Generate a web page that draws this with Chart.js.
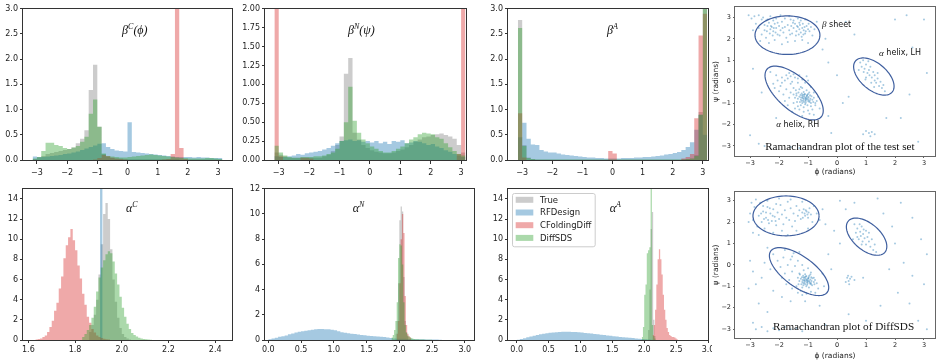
<!DOCTYPE html>
<html>
<head>
<meta charset="utf-8">
<script src="https://cdn.jsdelivr.net/npm/chart.js@4.4.0/dist/chart.umd.min.js"></script>
<style>
  html, body { margin: 0; padding: 0; background: #fff; }
  #wrap { position: relative; width: 941px; height: 362px; overflow: hidden; background: #fff; }
  canvas { position: absolute; }
</style>
</head>
<body>
<div id="wrap"></div>
<script>
// ---------- series ----------
const seriesNames = ["True", "RFDesign", "CFoldingDiff", "DiffSDS"];
const seriesColors = ["rgba(128,128,128,0.4)", "rgba(31,119,180,0.4)", "rgba(214,39,40,0.4)", "rgba(44,160,44,0.4)"];

// angle histograms: 44 bins from -pi to pi
const angleStart = -Math.PI;
const angleWidth = (2 * Math.PI) / 44;

const betaC_true = [0.02,0.05,0.08,0.12,0.14,0.16,0.18,0.2,0.22,0.25, 0.33,0.42,0.59,1.39,1.89,0.66,0.12,0.06,0.04,0.03, 0.03,0.02,0.02,0.02,0.02,0.02,0.02,0.02,0.02,0.02, 0.02,0.02,0.02,0.02,0.01,0.01,0.01,0.01,0.01,0.01, 0.01,0.01,0.01,0.01];
const betaC_rf = [0.07,0.06,0.06,0.07,0.08,0.09,0.10,0.12,0.13,0.15, 0.17,0.2,0.23,0.26,0.29,0.32,0.33,0.26,0.22,0.19, 0.18,0.17,0.75,0.16,0.15,0.14,0.13,0.12,0.11,0.10, 0.09,0.08,0.07,0.06,0.06,0.06,0.06,0.05,0.06,0.05, 0.05,0.04,0.04,0.04];
const betaC_cf = [0,0,0,0,0,0,0,0,0,0, 0,0,0,0,0.01,0.04,0.10,0.08,0.05,0.03, 0.02,0.01,0,0,0,0,0,0,0,0, 0.01,0.02,0.12,6.0,0.24,0.02,0,0,0,0, 0,0,0,0];
const betaC_diff = [0.03,0.06,0.18,0.34,0.34,0.30,0.28,0.24,0.22,0.25, 0.28,0.36,0.46,0.92,1.2,0.66,0.13,0.08,0.07,0.06, 0.05,0.05,0.06,0.07,0.08,0.09,0.1,0.11,0.1,0.09, 0.08,0.07,0.06,0.05,0.04,0.04,0.03,0.03,0.03,0.03, 0.04,0.04,0.03,0.02];

const betaN_true = [0.1,0.07,0.05,0.03,0.03,0.03,0.03,0.03,0.03,0.03, 0.03,0.05,0.07,0.12,0.2,0.31,1.14,1.35,0.36,0.27, 0.2,0.16,0.13,0.11,0.1,0.09,0.09,0.1,0.12,0.14, 0.17,0.2,0.24,0.27,0.3,0.31,0.33,0.34,0.35,0.33, 0.31,0.28,0.2,0.1];
const betaN_rf = [0.05,0.04,0.04,0.05,0.06,0.08,0.07,0.09,0.1,0.11, 0.12,0.14,0.16,0.19,0.22,0.25,0.26,0.27,0.25,0.26, 0.24,0.25,0.23,0.25,0.22,0.24,0.21,0.25,0.24,0.26, 0.22,0.23,0.25,0.24,0.22,0.2,0.21,0.18,0.16,0.13, 0.11,0.08,0.06,0.04];
const betaN_cf = [5,0.05,0,0,0,0,0.03,0.03,0.02,0, 0,0,0,0,0,0,0,0,0,0, 0,0,0,0,0,0,0,0,0,0, 0,0,0,0,0,0,0,0,0,0, 0,0,0.08,5];
const betaN_diff = [0.19,0.1,0.06,0.04,0.03,0.03,0.04,0.04,0.04,0.05, 0.05,0.06,0.08,0.1,0.15,0.25,0.5,0.97,0.52,0.36, 0.27,0.22,0.18,0.15,0.12,0.1,0.1,0.12,0.15,0.18, 0.22,0.27,0.3,0.34,0.36,0.35,0.34,0.3,0.28,0.22, 0.17,0.12,0.08,0.06];

const betaA_true = [2.78,0.3,0.05,0.02,0.01,0.01,0.01,0.01,0.01,0.01, 0.01,0.01,0.01,0.01,0.01,0.01,0.01,0.01,0.01,0.01, 0.01,0.01,0.01,0.01,0.01,0.01,0.01,0.01,0.01,0.01, 0.01,0.01,0.01,0.01,0.01,0.01,0.01,0.01,0.02,0.02, 0.03,0.1,0.95,3.6];
const betaA_rf = [0.45,0.74,0.42,0.31,0.3,0.2,0.17,0.15,0.15,0.13, 0.11,0.1,0.09,0.08,0.07,0.06,0.05,0.05,0.04,0.04, 0.03,0.03,0.03,0.03,0.04,0.04,0.04,0.05,0.05,0.06, 0.06,0.07,0.08,0.09,0.11,0.12,0.14,0.16,0.2,0.26, 0.35,0.6,0.9,0.5];
const betaA_cf = [0.93,0.05,0,0,0,0,0,0,0,0, 0,0,0,0,0,0,0,0,0,0, 0,0.18,0.13,0,0,0,0,0,0,0, 0,0,0,0,0,0,0,0,0.03,0.06, 0.12,0.83,2.47,2.9];
const betaA_diff = [2.62,0.28,0.04,0.02,0.01,0.01,0.01,0.01,0.01,0.01, 0.01,0.01,0.01,0.01,0.01,0.01,0.01,0.01,0.01,0.01, 0.01,0.01,0.01,0.01,0.01,0.01,0.01,0.01,0.01,0.01, 0.01,0.01,0.01,0.01,0.01,0.01,0.01,0.01,0.01,0.02, 0.03,0.08,0.9,3.4];

// bond-angle histograms: [first bin edge, bin width]
const alphaC_bins = { true: [1.86, 0.01], rf: [1.897, 0.01], cf: [1.63, 0.01], diff: [1.83, 0.01] };
const alphaC_true = [0.8,1.5,2.5,4.0,6.5,9.5,12.5,13.6,12.0,9.0,6.0,3.8,2.2,1.2,0.6,0.3,0.15,0.05];
const alphaC_rf = [0, 40, 0];
const alphaC_cf = [0.05,0.1,0.15,0.3,0.45,0.8,1.3,1.9,2.9,3.7,5.1,6.3,8.1,9.4,10.2,11.0,9.9,8.9,7.4,6.1,4.6,3.5,2.3,1.7,1.1,0.75,0.45,0.3,0.2,0.12,0.08,0.05];
const alphaC_diff = [0.3,0.6,1.0,1.5,2.2,3.3,4.8,6.2,7.2,7.9,8.5,8.8,8.6,7.8,6.6,5.5,4.3,3.2,2.3,1.6,1.1,0.7,0.5,0.35,0.22,0.15,0.1,0.07,0.05,0.03];

const alphaN_bins = { true: [1.94, 0.02], rf: [0, 0.05], cf: [1.96, 0.02], diff: [1.88, 0.02] };
const alphaN_true = [0.5,1.5,4.5,9.5,10.6,10.2,5.0,1.5,0.6,0.3];
const alphaN_rf = [0.05,0.12,0.18,0.25,0.3,0.36,0.45,0.52,0.6,0.65, 0.7,0.74,0.78,0.82,0.86,0.88,0.87,0.86,0.85,0.82, 0.78,0.7,0.62,0.57,0.53,0.5,0.47,0.44,0.4,0.37, 0.34,0.31,0.29,0.27,0.26,0.24,0.2,0.15,0.12,0.1, 0.09,0.09,0.08,0.07,0.06,0.06,0.05,0.05,0.04,0.04, 0.03,0.03,0.02];
const alphaN_cf = [0.5,1.5,4.5,8.0,10.0,8.5,3.5,1.2,0.5,0.3,0.2];
const alphaN_diff = [0.2,0.4,0.8,1.5,3.0,6.5,7.6,7.5,6.0,3.0,1.2,0.6,0.35,0.25,0.2,0.15,0.1,0.08,0.06,0.05,0.05,0.04,0.04,0.03,0.03,0.02,0.02,0.02,0.02,0.02,0.01];

const alphaA_bins = { true: [2.06, 0.02], rf: [0, 0.05], cf: [2.13, 0.02], diff: [1.96, 0.02] };
const alphaA_true = [1.0,5.0,11.0,12.7,2.0,0.4];
const alphaA_rf = [0.02,0.1,0.18,0.27,0.35,0.42,0.5,0.56,0.62,0.66, 0.71,0.74,0.77,0.79,0.81,0.83,0.82,0.8,0.79,0.77, 0.74,0.7,0.67,0.64,0.6,0.57,0.53,0.49,0.45,0.42, 0.38,0.34,0.31,0.28,0.25,0.22,0.19,0.16,0.13,0.1, 0.07,0.05,0.02];
const alphaA_cf = [0.5,1.5,3.0,5.5,8.0,9.0,8.0,6.5,4.5,3.0,2.0,1.2,0.8,0.5,0.4,0.3,0.3,0.25,0.15,0.05];
const alphaA_diff = [0.3,1.3,4.5,5.5,8.6,8.9,9.2,17,1.5,0.4,0.15];

// Ramachandran points [phi, psi]
const testSetPoints = [
  [-2.95,2.95],[-2.85,3.05],[-2.7,3.1],[-2.6,2.9],[-2.55,3.0],[-2.45,2.85],[-2.4,2.6],[-2.35,2.75],[-2.3,2.45],[-2.25,2.55],
  [-2.2,2.35],[-2.15,2.7],[-2.1,2.5],[-2.05,2.2],[-2.0,2.6],[-1.95,2.4],[-1.9,2.8],[-1.85,2.3],[-1.8,2.55],[-1.75,2.05],
  [-1.7,2.65],[-1.65,2.4],[-1.6,2.9],[-1.55,2.25],[-1.5,2.5],[-1.45,2.7],[-1.4,2.35],[-1.35,2.55],[-1.3,2.45],[-1.28,2.65],
  [-1.25,2.3],[-1.2,2.5],[-1.18,2.7],[-1.15,2.4],[-1.12,2.55],[-1.1,2.25],[-1.05,2.6],[-1.0,2.45],[-0.95,2.35],[-0.9,2.55],
  [-0.85,2.15],[-2.6,2.2],[-2.5,2.4],[-2.45,2.05],[-2.4,2.9],[-2.3,3.05],[-2.2,2.85],[-2.1,2.95],[-1.95,3.1],[-1.8,2.95],
  [-1.65,3.05],[-1.5,2.85],[-1.35,2.95],[-1.25,2.85],[-1.1,2.9],[-2.7,2.5],[-2.8,2.7],[-3.05,3.1],[-2.9,2.4],[-2.65,1.9],
  [-2.35,1.8],[-2.15,1.95],[-1.9,1.75],[-1.7,1.85],[-1.45,1.9],[-1.2,1.95],[-1.0,1.8],[-2.5,2.65],[-2.28,2.6],[-2.12,2.3],
  [-1.98,2.15],[-1.58,2.6],[-1.42,2.15],[-1.32,2.2],[-1.22,2.1],[-1.08,2.35],[-0.98,2.7],[-0.78,2.45],[-0.7,2.8],[-2.32,2.25],
  [-2.18,2.5],[-2.05,2.75],[-1.88,2.5],[-1.62,2.2],[-1.52,2.75],[-1.38,2.6],[-1.16,2.2],[-1.3,2.75],[-2.42,2.35],[-2.22,2.15],
  [-2.1,0.3],[-1.9,0.2],[-1.8,0.05],[-1.7,0.15],[-1.6,-0.1],[-1.95,-0.2],[-2.0,-0.45],[-1.85,-0.6],[-1.75,-0.35],[-1.65,-0.75],
  [-1.55,0.0],[-1.5,-0.3],[-1.45,0.2],[-1.4,-0.55],[-1.35,-0.05],[-1.3,0.3],[-1.25,-0.25],[-1.2,0.1],[-1.65,0.4],[-1.5,0.35],
  [-2.2,-0.1],[-2.05,0.05],[-1.8,-0.9],[-1.7,-1.1],[-1.5,-1.0],[-1.45,-1.25],[-1.3,-1.3],[-1.15,-1.4],[-1.0,-1.35],[-0.85,-1.3],
  [-0.75,-1.1],[-0.7,-0.9],[-0.65,-0.7],[-0.8,-0.5],[-0.9,-0.25],[-1.0,0.05],[-1.1,-0.05],[-0.95,-1.5],[-0.8,-1.55],[-1.2,-1.6],
  [-2.3,0.45],[-1.9,-0.05],[-1.6,-0.5],[-1.55,-1.4],[-0.6,-1.25],[-1.05,0.25],[-1.75,0.3],[-2.15,-0.3],[-1.35,0.15],[-1.6,0.25],
  [-1.1,-0.75],[-1.05,-0.7],[-1.15,-0.8],[-1.0,-0.85],[-1.2,-0.65],[-1.12,-0.6],[-0.98,-0.72],[-1.08,-0.9],[-1.25,-0.85],[-0.92,-0.8],
  [-1.18,-0.72],[-1.03,-0.62],[-1.14,-0.95],[-0.95,-0.95],[-1.3,-0.7],[-1.22,-0.55],[-0.88,-0.68],[-1.06,-0.82],[-1.16,-0.88],[-1.0,-0.58],
  [-1.28,-0.95],[-0.9,-1.0],[-1.35,-0.8],[-1.1,-1.05],[-0.85,-0.85],[-1.2,-1.0],[-1.4,-0.65],[-1.33,-0.5],[-1.15,-0.48],[-0.96,-0.5],
  [-0.82,-0.95],[-1.02,-1.1],[-1.25,-1.1],[-1.38,-0.95],[-0.8,-0.75],[-1.07,-0.77],[-1.13,-0.68],[-1.01,-0.78],[-1.19,-0.78],[-1.09,-0.85],
  [-1.04,-0.66],[-0.94,-0.88],[-1.24,-0.74],[-1.17,-0.61],[-0.99,-0.92],[-1.11,-0.57],[-1.26,-0.62],[-0.93,-0.63],[-1.08,-0.98],[-1.21,-0.9],
  [-1.45,-0.75],[-1.42,-0.4],[-1.5,-0.6],[-1.3,-0.35],[-1.2,-0.3],[-1.05,-0.4],[-0.9,-1.15],[-0.75,-1.0],[-1.35,-1.15],[-1.15,-1.2],
  [0.8,0.9],[0.85,0.7],[0.9,1.0],[0.95,0.6],[1.0,0.8],[1.05,0.4],[1.1,0.55],[1.12,0.3],[1.15,0.7],[1.2,0.2],
  [1.25,0.45],[1.3,0.05],[1.3,0.3],[1.35,-0.05],[1.4,0.15],[1.45,-0.2],[1.5,0.0],[1.55,-0.3],[1.6,-0.15],[1.0,0.2],
  [0.92,0.45],[1.18,-0.05],[1.4,0.4],[0.75,0.55],[1.08,0.95],[1.65,-0.45],[1.28,-0.25],[0.98,0.1],
  [1.0,-2.3],[1.1,-2.4],[1.2,-2.35],[1.3,-2.45],[0.9,-2.45],[1.15,-2.55],[-2.7,-2.9],[-2.5,-3.0],[-1.6,-3.05],[-1.3,-3.1],
  [-3.0,-2.5],[-2.9,0.6],[-2.6,-0.5],[-0.5,1.5],[-0.3,0.9],[0.3,2.8],[0.6,2.2],[2.0,2.9],[2.4,3.1],[3.0,2.9],
  [3.1,0.4],[2.5,-0.6],[2.2,-1.7],[1.7,-1.7],[0.4,-0.7],[0.2,-1.0],[-0.3,-1.6],[-2.1,-1.7],[-0.2,-2.4],[2.8,-2.8],
  [-0.4,2.0],[0.0,0.3],[2.6,1.6]
];

const diffSdsPoints = [
  [-3.0,2.4],[-2.9,2.1],[-2.85,2.7],[-2.75,1.8],[-2.7,2.3],[-2.65,2.9],[-2.6,2.0],[-2.55,2.5],[-2.5,1.7],[-2.45,2.2],
  [-2.4,2.7],[-2.35,1.95],[-2.3,2.4],[-2.25,2.05],[-2.2,2.6],[-2.15,2.25],[-2.1,1.85],[-2.05,2.45],[-2.0,2.15],[-1.95,2.8],
  [-1.9,2.35],[-1.85,1.9],[-1.8,2.55],[-1.75,2.2],[-1.7,2.95],[-1.65,2.1],[-1.6,2.65],[-1.55,1.8],[-1.5,2.4],[-1.45,2.05],
  [-1.4,2.75],[-1.35,2.3],[-1.3,2.55],[-1.25,2.15],[-1.2,2.45],[-1.15,2.6],[-1.1,2.3],[-1.05,2.5],[-1.0,2.2],[-0.95,2.65],
  [-0.9,2.35],[-0.85,2.0],[-0.8,2.75],[-0.7,2.4],[-0.6,2.1],[-1.12,2.4],[-1.08,2.55],[-1.02,2.35],[-0.98,2.45],[-1.18,2.2],
  [-2.45,2.45],[-2.38,2.1],[-2.32,2.65],[-2.22,2.3],[-2.12,2.05],[-2.52,2.15],[-2.62,2.4],[-2.95,2.9],[-2.8,3.05],[-2.4,3.0],
  [-2.0,3.1],[-1.6,3.05],[-1.2,2.95],[-2.1,2.85],[-1.9,1.6],[-1.4,1.6],[-2.2,1.5],[-1.0,1.7],[-2.9,1.5],[-3.05,2.0],
  [-2.7,1.4],[-1.7,1.4],[-0.5,2.6],[-0.4,1.9],[-2.55,2.75],
  [-2.2,0.5],[-2.05,0.2],[-1.95,-0.1],[-1.85,0.35],[-1.8,-0.4],[-1.7,0.0],[-1.65,-0.7],[-1.6,0.25],[-1.55,-0.3],[-1.5,0.55],
  [-1.45,-0.05],[-1.4,-1.0],[-1.35,0.2],[-1.3,-0.4],[-1.25,-1.2],[-1.2,0.0],[-1.15,-0.25],[-1.0,-0.15],[-0.9,-0.35],[-0.8,-0.6],
  [-0.7,-0.85],[-0.65,-1.1],[-0.75,-1.3],[-0.9,-1.25],[-1.05,-1.35],[-1.2,-1.4],[-1.35,-1.3],[-1.55,-1.1],[-1.75,-0.9],[-1.9,-0.6],
  [-2.3,-0.2],[-2.5,0.1],[-2.6,-0.6],[-2.8,-0.9],[-2.2,-1.2],[-1.9,-1.5],[-0.5,-0.4],[-0.45,-1.0],[-1.6,-1.7],[-1.1,-1.7],
  [-2.4,0.8],[-1.8,0.7],[-1.3,0.6],[-1.55,0.4],
  [-1.05,-0.7],[-1.0,-0.65],[-1.1,-0.75],[-0.95,-0.8],[-1.15,-0.6],[-1.08,-0.55],[-0.92,-0.68],[-1.02,-0.85],[-1.2,-0.8],[-0.88,-0.75],
  [-1.13,-0.68],[-0.98,-0.57],[-1.1,-0.9],[-0.9,-0.9],[-1.25,-0.65],[-1.17,-0.5],[-0.85,-0.62],[-1.01,-0.77],[-1.12,-0.83],[-0.96,-0.5],
  [-1.23,-0.9],[-0.86,-0.95],[-1.3,-0.75],[-1.06,-1.0],[-0.8,-0.8],[-1.16,-0.95],[-1.35,-0.6],[-1.28,-0.45],[-1.1,-0.43],[-0.92,-0.45],
  [-0.78,-0.9],[-0.97,-1.05],[-1.2,-1.05],[-1.33,-0.9],[-0.76,-0.7],[-1.03,-0.72],[-1.08,-0.64],[-0.97,-0.74],[-1.14,-0.74],[-1.04,-0.8],
  [-0.99,-0.62],[-0.9,-0.84],[-1.19,-0.7],[-1.12,-0.57],[-0.94,-0.87],[-1.06,-0.52],[-1.21,-0.58],[-0.89,-0.58],[-1.03,-0.93],[-1.16,-0.86],
  [0.6,1.9],[0.65,1.5],[0.7,1.7],[0.75,1.2],[0.8,1.55],[0.82,1.35],[0.85,1.8],[0.88,1.1],[0.9,1.45],[0.95,1.25],
  [1.0,1.6],[1.0,0.95],[1.05,1.3],[1.1,1.1],[1.15,0.85],[1.2,1.2],[1.25,0.7],[1.3,0.95],[0.7,1.3],[0.78,1.9],
  [0.92,1.65],[0.85,0.95],[1.1,1.5],[1.35,0.6],[0.55,1.2],
  [0.35,-0.6],[0.4,-0.75],[0.45,-0.65],[0.3,-0.8],[0.5,-0.55],[0.42,-0.9],[0.38,-0.5],[0.9,-0.6],[0.6,-0.7],
  [-2.8,-3.0],[-2.6,-2.9],[-2.4,-3.1],[-2.2,-2.95],[-2.0,-3.05],[-1.8,-2.9],[-1.6,-3.0],[-1.4,-2.95],[-2.9,-2.7],[-1.2,-3.1],
  [-3.0,0.2],[-2.9,-0.3],[-3.05,-1.1],[-2.7,-1.8],[-2.4,-2.2],[-0.3,0.5],[-0.2,-0.2],[0.1,1.0],[0.3,2.6],[0.1,3.0],
  [0.6,2.9],[1.6,2.4],[1.9,1.8],[2.2,2.9],[2.6,2.2],[2.9,1.2],[3.1,0.5],[2.3,0.1],[1.8,-0.2],[2.6,-0.5],
  [3.0,-0.9],[2.1,-1.3],[1.5,-1.9],[1.0,-2.6],[0.4,-2.3],[-0.4,-2.8],[2.8,-2.6],[3.1,-3.0],[1.4,3.1],[-0.6,-1.9],
  [-0.1,1.6],[2.0,1.0],[2.5,-1.8]
];

// region ellipses: centre and two conjugate semi-axes, in radians
const testSetRegions = [
  { c: [-1.71, 2.17], u: [1.12, 0], v: [0, 0.9] },
  { c: [-1.48, -0.53], u: [0.93, -1.12], v: [0.38, 0.57] },
  { c: [1.27, 0.24], u: [0.63, -0.73], v: [0.30, 0.47] },
];
const diffSdsRegions = [
  { c: [-1.76, 2.29], u: [1.14, 0], v: [0, 0.93] },
  { c: [-1.31, -0.31], u: [0.95, -1.0], v: [0.38, 0.5] },
  { c: [1.02, 1.32], u: [0.63, -0.73], v: [0.30, 0.47] },
];

// ---------- layout ----------
const geo = {
  b1: { l: 23, t: 8, r: 232, b: 160, yW: 23, xH: 20, pt: 6, pr: 10 },
  b2: { l: 265, t: 8, r: 466, b: 160, yW: 30, xH: 20, pt: 6, pr: 10 },
  b3: { l: 508, t: 8, r: 708, b: 160, yW: 30, xH: 20, pt: 6, pr: 10 },
  r1: { l: 735, t: 5, r: 935, b: 156, yW: 23, xH: 22, pt: 4, pr: 5 },
  a1: { l: 23, t: 188, r: 232, b: 340, yW: 23, xH: 20, pt: 6, pr: 10 },
  a2: { l: 265, t: 188, r: 474, b: 340, yW: 30, xH: 20, pt: 6, pr: 10 },
  a3: { l: 508, t: 188, r: 708, b: 340, yW: 30, xH: 20, pt: 6, pr: 10 },
  r2: { l: 735, t: 190, r: 935, b: 338, yW: 23, xH: 24, pt: 4, pr: 5 },
};

const wrap = document.getElementById("wrap");

function place(g) {
  const c = document.createElement("canvas");
  c.width = g.yW + (g.r - g.l) + g.pr;
  c.height = g.pt + (g.b - g.t) + g.xH;
  c.style.left = (g.l - g.yW) + "px";
  c.style.top = (g.t - g.pt) + "px";
  wrap.appendChild(c);
  return c;
}

function hist(lo, w, counts) {
  const pts = [];
  counts.forEach((c, i) => {
    pts.push({ x: lo + i * w, y: c });
    pts.push({ x: lo + (i + 1) * w, y: c });
  });
  return pts;
}

function histSets(parts) {
  return parts.map((p, k) => ({
    label: seriesNames[k],
    data: hist(p[0], p[1], p[2]),
    backgroundColor: seriesColors[k],
    borderColor: "transparent",
    borderWidth: 0,
    pointRadius: 0,
    fill: "origin",
    order: 4 - k,
  }));
}

function axis(min, max, step, dec, o) {
  const a = {
    type: "linear",
    min: min,
    max: max,
    afterFit: (s) => {
      if (s.isHorizontal()) s.height = o.fit;
      else s.width = o.fit;
    },
    ticks: {
      stepSize: step,
      includeBounds: false,
      autoSkip: false,
      maxRotation: 0,
      padding: o.pad,
      color: "#222",
      font: { family: "DejaVu Sans", size: o.fs },
      callback: (v) => Number(v).toFixed(dec).replace("-", "\u2212"),
    },
    grid: { drawOnChartArea: false, drawTicks: true, tickLength: o.tl, color: o.line || "#333" },
    border: { display: false },
  };
  if (o.title) {
    a.title = {
      display: true,
      text: o.title,
      color: "#222",
      font: { family: "DejaVu Sans", size: 7.5 },
      padding: { top: 0, bottom: 1 },
    };
  }
  return a;
}

// keeps every dataset (fills included) inside the plot rectangle
const clipPlugin = {
  id: "clipArea",
  beforeDatasetsDraw(chart) {
    const a = chart.chartArea;
    chart.ctx.save();
    chart.ctx.beginPath();
    chart.ctx.rect(a.left, a.top, a.right - a.left, a.bottom - a.top);
    chart.ctx.clip();
  },
  afterDatasetsDraw(chart) {
    chart.ctx.restore();
  },
};

function framePlugin(color, white) {
  return {
    id: "frame",
    beforeDraw(chart) {
      if (!white) return;
      const ctx = chart.ctx;
      ctx.save();
      ctx.fillStyle = "#fff";
      ctx.fillRect(0, 0, chart.width, chart.height);
      ctx.restore();
    },
    afterDraw(chart) {
      const a = chart.chartArea;
      const ctx = chart.ctx;
      ctx.save();
      ctx.strokeStyle = color;
      ctx.lineWidth = 1;
      ctx.strokeRect(Math.round(a.left) - 0.5, Math.round(a.top) - 0.5,
        Math.round(a.right - a.left) + 1, Math.round(a.bottom - a.top) + 1);
      ctx.restore();
    },
  };
}

// text placed at data coordinates; parts = [text, font, raise]
function notesPlugin(items) {
  return {
    id: "notes",
    afterDraw(chart) {
      const ctx = chart.ctx;
      const xs = chart.scales.x, ys = chart.scales.y;
      ctx.save();
      ctx.textBaseline = "middle";
      ctx.textAlign = "left";
      items.forEach((it) => {
        let px = xs.getPixelForValue(it.x);
        const py = ys.getPixelForValue(it.y);
        ctx.fillStyle = it.color || "#111";
        it.parts.forEach((p) => {
          ctx.font = p[1];
          ctx.fillText(p[0], px, py - (p[2] || 0));
          px += ctx.measureText(p[0]).width;
        });
      });
      ctx.restore();
    },
  };
}

function ellipsePlugin(regions) {
  return {
    id: "ellipses",
    afterDraw(chart) {
      const ctx = chart.ctx;
      const xs = chart.scales.x, ys = chart.scales.y;
      ctx.save();
      ctx.strokeStyle = "#3f5f9f";
      ctx.lineWidth = 1.2;
      regions.forEach((e) => {
        ctx.beginPath();
        for (let k = 0; k <= 96; k++) {
          const t = (k / 96) * 2 * Math.PI;
          const x = e.c[0] + e.u[0] * Math.cos(t) + e.v[0] * Math.sin(t);
          const y = e.c[1] + e.u[1] * Math.cos(t) + e.v[1] * Math.sin(t);
          const px = xs.getPixelForValue(x), py = ys.getPixelForValue(y);
          if (k === 0) ctx.moveTo(px, py);
          else ctx.lineTo(px, py);
        }
        ctx.stroke();
      });
      ctx.restore();
    },
  };
}

const legendPlugin = {
  id: "boxLegend",
  afterDraw(chart) {
    const ctx = chart.ctx;
    const a = chart.chartArea;
    const x0 = a.left + 4.3, y0 = a.top + 3.7;
    ctx.save();
    ctx.fillStyle = "rgba(255,255,255,0.8)";
    ctx.strokeStyle = "#cccccc";
    ctx.lineWidth = 1;
    ctx.beginPath();
    ctx.roundRect(Math.round(x0) + 0.5, Math.round(y0) + 0.5, 82.7, 53.3, 2);
    ctx.fill();
    ctx.stroke();
    ctx.font = "8.5px 'DejaVu Sans'";
    ctx.textBaseline = "middle";
    seriesNames.forEach((name, k) => {
      const cy = y0 + 7.3 + k * 12.7;
      ctx.fillStyle = seriesColors[k];
      ctx.fillRect(x0 + 3.4, cy - 3, 17.6, 6);
      ctx.fillStyle = "#222";
      ctx.fillText(name, x0 + 27.7, cy + 0.5);
    });
    ctx.restore();
  },
};

const mathFont = "italic 12px 'Liberation Serif'";
const supFont = "italic 8px 'Liberation Serif'";
const labelFont = "8px 'DejaVu Sans'";
const greekFont = "italic 9px 'Liberation Serif'";
const serifTitle = "11.2px 'Liberation Serif'";

function histChart(g, parts, xr, yr, topRow, notes, extra) {
  const xo = topRow ? { fit: g.xH, pad: 4, tl: 4, fs: 8 } : { fit: g.xH, pad: 2, tl: 3, fs: 8 };
  const plugins = [clipPlugin, framePlugin("#333", false), notesPlugin(notes)];
  if (extra) plugins.push(extra);
  return new Chart(place(g), {
    type: "line",
    data: { datasets: histSets(parts) },
    options: {
      responsive: false,
      animation: false,
      devicePixelRatio: 1,
      layout: { padding: { left: 0, top: g.pt, right: g.pr, bottom: 0 } },
      elements: { line: { tension: 0 } },
      plugins: { legend: { display: false }, tooltip: { enabled: false } },
      scales: {
        x: axis(xr[0], xr[1], xr[2], xr[3], xo),
        y: axis(yr[0], yr[1], yr[2], yr[3], { fit: g.yW, pad: 2, tl: 3, fs: 8 }),
      },
    },
    plugins: plugins,
  });
}

function ramaChart(g, points, yMin, yMax, regions, notes) {
  return new Chart(place(g), {
    type: "scatter",
    data: {
      datasets: [{
        data: points.map((p) => ({ x: p[0], y: p[1] })),
        backgroundColor: "rgba(31,119,180,0.4)",
        borderWidth: 0,
        pointRadius: 1,
      }],
    },
    options: {
      responsive: false,
      animation: false,
      devicePixelRatio: 1,
      layout: { padding: { left: 0, top: g.pt, right: g.pr, bottom: 0 } },
      plugins: { legend: { display: false }, tooltip: { enabled: false } },
      scales: {
        x: axis(-3.52, 3.38, 1, 0, { fit: g.xH, pad: 1.5, tl: 2, fs: 6.5, line: "#666", title: "\u03d5 (radians)" }),
        y: axis(yMin, yMax, 1, 0, { fit: g.yW, pad: 2, tl: 2, fs: 6.5, line: "#666", title: "\u03c8 (radians)" }),
      },
    },
    plugins: [clipPlugin, framePlugin("#666", true), ellipsePlugin(regions), notesPlugin(notes)],
  });
}

const A = angleStart, W = angleWidth;

histChart(geo.b1,
  [[A, W, betaC_true], [A, W, betaC_rf], [A, W, betaC_cf], [A, W, betaC_diff]],
  [-3.46, 3.46, 1, 0], [0, 3, 0.5, 1], true,
  [{ x: -0.18, y: 2.57, parts: [["\u03b2", mathFont], ["C", supFont, 4], ["(\u03d5)", mathFont]] }]);

histChart(geo.b2,
  [[A, W, betaN_true], [A, W, betaN_rf], [A, W, betaN_cf], [A, W, betaN_diff]],
  [-3.45, 3.16, 1, 0], [0, 2, 0.25, 2], true,
  [{ x: -0.72, y: 1.71, parts: [["\u03b2", mathFont], ["N", supFont, 4], ["(\u03c8)", mathFont]] }]);

histChart(geo.b3,
  [[A, W, betaA_true], [A, W, betaA_rf], [A, W, betaA_cf], [A, W, betaA_diff]],
  [-3.47, 3.17, 1, 0], [0, 3, 0.5, 1], true,
  [{ x: -0.18, y: 2.57, parts: [["\u03b2", mathFont], ["A", supFont, 4]] }]);

ramaChart(geo.r1, testSetPoints, -3.47, 3.49, testSetRegions, [
  { x: -0.52, y: 2.66, parts: [["\u03b2", greekFont], [" sheet", labelFont]] },
  { x: 1.45, y: 1.33, parts: [["\u03b1", greekFont], [" helix, LH", labelFont]] },
  { x: -2.1, y: -2.01, parts: [["\u03b1", greekFont], [" helix, RH", labelFont]] },
  { x: -2.48, y: -3.03, parts: [["Ramachandran plot of the test set", serifTitle]] },
]);

histChart(geo.a1,
  [[alphaC_bins.true[0], alphaC_bins.true[1], alphaC_true], [alphaC_bins.rf[0], alphaC_bins.rf[1], alphaC_rf],
   [alphaC_bins.cf[0], alphaC_bins.cf[1], alphaC_cf], [alphaC_bins.diff[0], alphaC_bins.diff[1], alphaC_diff]],
  [1.577, 2.472, 0.2, 1], [0, 15, 2, 0], false,
  [{ x: 2.018, y: 13.0, parts: [["\u03b1", mathFont], ["C", supFont, 4]] }]);

histChart(geo.a2,
  [[alphaN_bins.true[0], alphaN_bins.true[1], alphaN_true], [alphaN_bins.rf[0], alphaN_bins.rf[1], alphaN_rf],
   [alphaN_bins.cf[0], alphaN_bins.cf[1], alphaN_cf], [alphaN_bins.diff[0], alphaN_bins.diff[1], alphaN_diff]],
  [-0.05, 3.14, 0.5, 1], [0, 12, 2, 0], false,
  [{ x: 1.29, y: 10.4, parts: [["\u03b1", mathFont], ["N", supFont, 4]] }]);

histChart(geo.a3,
  [[alphaA_bins.true[0], alphaA_bins.true[1], alphaA_true], [alphaA_bins.rf[0], alphaA_bins.rf[1], alphaA_rf],
   [alphaA_bins.cf[0], alphaA_bins.cf[1], alphaA_cf], [alphaA_bins.diff[0], alphaA_bins.diff[1], alphaA_diff]],
  [-0.136, 3.0, 0.5, 1], [0, 15, 2, 0], false,
  [{ x: 1.46, y: 13.0, parts: [["\u03b1", mathFont], ["A", supFont, 4]] }],
  legendPlugin);

ramaChart(geo.r2, diffSdsPoints, -3.41, 3.41, diffSdsRegions, [
  { x: -2.21, y: -2.91, parts: [["Ramachandran plot of DiffSDS", serifTitle]] },
]);
</script>
</body>
</html>
